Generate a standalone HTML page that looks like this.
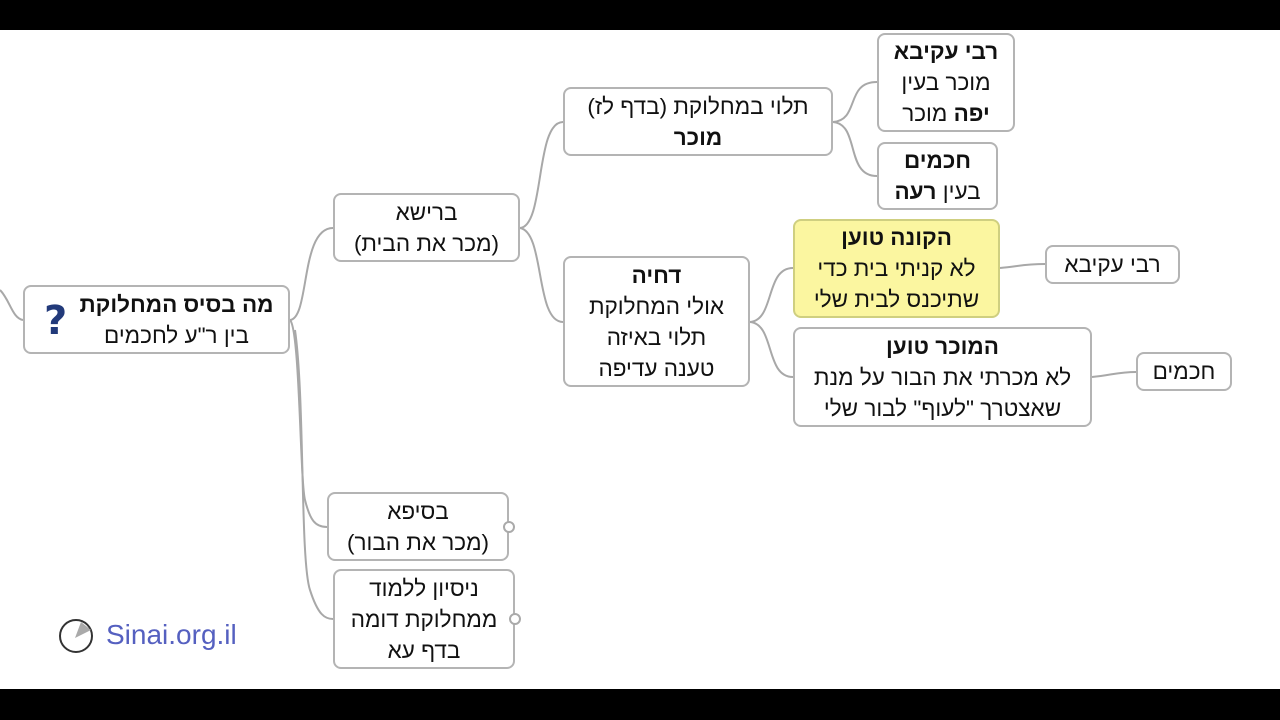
<!DOCTYPE html>
<html><head><meta charset="utf-8"><style>
body{margin:0;width:1280px;height:720px;background:#fff;position:relative;overflow:hidden;font-family:"Liberation Sans","DejaVu Sans",sans-serif;}
.bar{position:absolute;left:0;width:1280px;background:#000}
.n{position:absolute;box-sizing:border-box;border:2px solid #b4b4b4;border-radius:8px;background:#fff;direction:rtl;text-align:center;font-size:22.5px;line-height:31px;color:#111;display:flex;flex-direction:column;justify-content:center;white-space:nowrap}
b{font-weight:bold}
.c{position:absolute;width:12px;height:12px;border:2px solid #aaa;border-radius:50%;background:#fff;box-sizing:border-box}
</style></head><body>
<div class="bar" style="top:0;height:30px"></div>
<div class="bar" style="top:689px;height:31px"></div>
<svg width="1280" height="720" style="position:absolute;left:0;top:0" fill="none" stroke="#a8a8a8" stroke-width="2">
<path d="M0,290 C10,300 12,318 23,320"/>
<path d="M290,320 C310,318 300,228 333,228"/>
<path d="M290,320 C300,330 300,480 305,500 C310,520 315,527 327,527"/>
<path d="M295,330 C305,400 300,560 310,590 C318,615 325,619 333,619"/>
<path d="M520,228 C545,226 535,122 563,122"/>
<path d="M520,228 C545,232 535,322 563,322"/>
<path d="M833,122 C860,120 845,82 877,82"/>
<path d="M833,122 C860,124 845,176 877,176"/>
<path d="M750,322 C775,320 765,268 793,268"/>
<path d="M750,322 C775,324 765,377 793,377"/>
<path d="M1000,268 C1020,266 1025,264 1045,264"/>
<path d="M1092,377 C1112,375 1118,372 1136,372"/>
</svg>
<div class="n" style="left:23px;top:285px;width:267px;height:69px;padding-left:40px"><b>מה בסיס המחלוקת</b><span>בין ר"ע לחכמים</span></div>
<div style="position:absolute;left:44px;top:298px;font-size:40px;font-weight:bold;color:#223a7a;font-family:'DejaVu Sans',sans-serif">?</div>
<div class="n" style="left:333px;top:193px;width:187px;height:69px"><span>ברישא</span><span>(מכר את הבית)</span></div>
<div class="n" style="left:563px;top:87px;width:270px;height:69px"><span>תלוי במחלוקת (בדף לז)</span><b>מוכר</b></div>
<div class="n" style="left:877px;top:33px;width:138px;height:99px"><b>רבי עקיבא</b><span>מוכר בעין</span><span><b>יפה</b> מוכר</span></div>
<div class="n" style="left:877px;top:142px;width:121px;height:68px"><b>חכמים</b><span>בעין <b>רעה</b></span></div>
<div class="n" style="left:563px;top:256px;width:187px;height:131px"><b>דחיה</b><span>אולי המחלוקת</span><span>תלוי באיזה</span><span>טענה עדיפה</span></div>
<div class="n" style="left:793px;top:219px;width:207px;height:99px;background:#fbf6a0;border-color:#cfcf80"><b>הקונה טוען</b><span>לא קניתי בית כדי</span><span>שתיכנס לבית שלי</span></div>
<div class="n" style="left:1045px;top:245px;width:135px;height:39px"><span>רבי עקיבא</span></div>
<div class="n" style="left:793px;top:327px;width:299px;height:100px"><b>המוכר טוען</b><span>לא מכרתי את הבור על מנת</span><span>שאצטרך "לעוף" לבור שלי</span></div>
<div class="n" style="left:1136px;top:352px;width:96px;height:39px"><span>חכמים</span></div>
<div class="n" style="left:327px;top:492px;width:182px;height:69px"><span>בסיפא</span><span>(מכר את הבור)</span></div>
<div class="c" style="left:503px;top:521px"></div>
<div class="n" style="left:333px;top:569px;width:182px;height:100px"><span>ניסיון ללמוד</span><span>ממחלוקת דומה</span><span>בדף עא</span></div>
<div class="c" style="left:509px;top:613px"></div>
<svg width="40" height="40" style="position:absolute;left:57px;top:616px"><circle cx="19" cy="20" r="16" fill="none" stroke="#333" stroke-width="2"/><path d="M18,22 L24,6 L34,14 Z" fill="#aaa"/></svg>
<div style="position:absolute;left:106px;top:619px;font-size:28px;color:#5560c0">Sinai.org.il</div>
</body></html>
